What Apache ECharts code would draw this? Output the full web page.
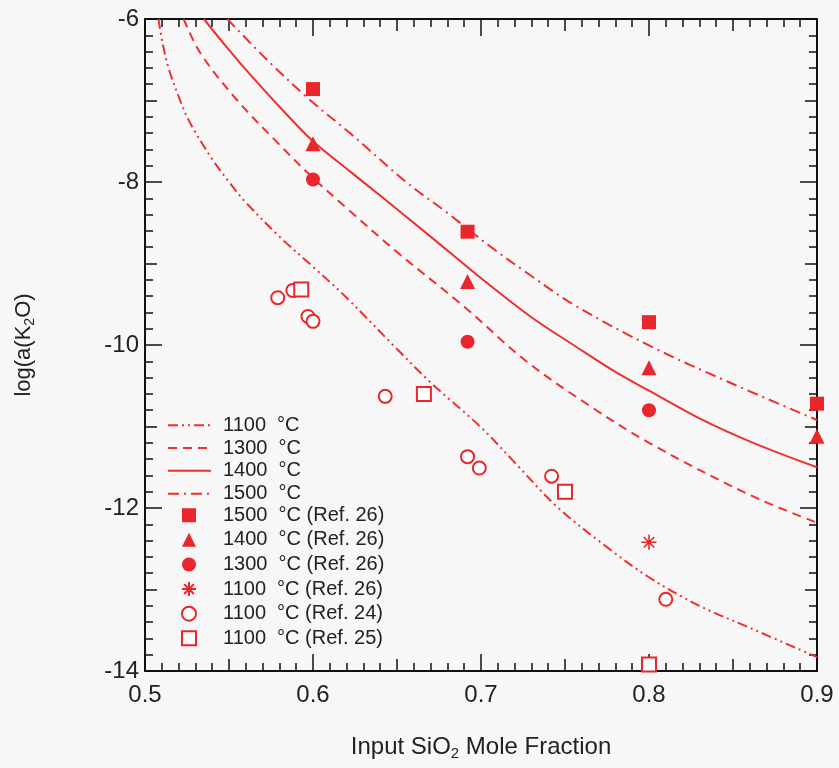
<!DOCTYPE html>
<html>
<head>
<meta charset="utf-8">
<script src="https://cdn.jsdelivr.net/npm/echarts@6/dist/echarts.min.js"></script>
<style>
html,body{margin:0;padding:0;background:#f7f7f7;}
#chart{width:839px;height:768px;}
</style>
</head>
<body>
<div id="chart"></div>
<script>
// ---- Data ----
// Model curves (x = input SiO2 mole fraction, y = log a(K2O))
const c1100X = [0.508, 0.5105, 0.514, 0.520, 0.525, 0.530, 0.540, 0.550, 0.560, 0.580, 0.600, 0.620, 0.650, 0.670, 0.700, 0.720, 0.745, 0.775, 0.800, 0.830, 0.860, 0.900];
const c1100Y = [-6.00, -6.30, -6.60, -6.95, -7.20, -7.39, -7.72, -8.00, -8.25, -8.67, -9.04, -9.42, -10.05, -10.46, -11.01, -11.44, -11.98, -12.48, -12.85, -13.20, -13.47, -13.83];
const c1300X = [0.523, 0.533, 0.555, 0.579, 0.600, 0.620, 0.650, 0.690, 0.727, 0.765, 0.800, 0.860, 0.900];
const c1300Y = [-6.00, -6.42, -7.00, -7.52, -7.95, -8.32, -8.86, -9.53, -10.20, -10.75, -11.20, -11.84, -12.18];
const c1400X = [0.535, 0.550, 0.5625, 0.582, 0.600, 0.622, 0.642, 0.670, 0.700, 0.730, 0.755, 0.780, 0.800, 0.830, 0.862, 0.900];
const c1400Y = [-6.00, -6.38, -6.68, -7.12, -7.50, -7.87, -8.20, -8.67, -9.18, -9.66, -10.00, -10.33, -10.56, -10.90, -11.20, -11.50];
const c1500X = [0.549, 0.5726, 0.598, 0.622, 0.656, 0.680, 0.7054, 0.727, 0.7548, 0.8024, 0.848, 0.900];
const c1500Y = [-6.00, -6.50, -6.99, -7.40, -8.01, -8.38, -8.79, -9.11, -9.50, -10.03, -10.46, -10.92];

// Measured points
const r26_1500X = [0.600, 0.692, 0.800, 0.900];
const r26_1500Y = [-6.86, -8.61, -9.72, -10.72];
const r26_1400X = [0.600, 0.692, 0.800, 0.900];
const r26_1400Y = [-7.53, -9.22, -10.28, -11.12];
const r26_1300X = [0.600, 0.692, 0.800];
const r26_1300Y = [-7.97, -9.96, -10.80];
const r26_1100X = [0.800];
const r26_1100Y = [-12.42];
const r24_1100X = [0.579, 0.588, 0.597, 0.600, 0.643, 0.692, 0.699, 0.742, 0.810];
const r24_1100Y = [-9.42, -9.33, -9.65, -9.71, -10.63, -11.37, -11.51, -11.61, -13.12];
const r25_1100X = [0.593, 0.666, 0.750, 0.800];
const r25_1100Y = [-9.32, -10.60, -11.80, -13.92];

// Legend / series names
const lineNames = ['1100  °C', '1300  °C', '1400  °C', '1500  °C'];
const pointNames = ['1500  °C (Ref. 26)', '1400  °C (Ref. 26)', '1300  °C (Ref. 26)',
                    '1100  °C (Ref. 26)', '1100  °C (Ref. 24)', '1100  °C (Ref. 25)'];

// Axis settings
const xMin = 0.5, xMax = 0.9;
const yMin = -14, yMax = -6;

// ---- Chart ----
const RED = '#e8262b';
const LINE_RED = '#ee3030';
const FONT = '"Liberation Sans", Arial, Helvetica, sans-serif';
const pairs = (xs, ys) => xs.map((x, i) => [x, ys[i]]);

const axisLineStyle = {color: '#111', width: 2};
const tickStyle = {color: '#111', width: 1.5};

function xAx(pos, major, withLabels) {
  const a = {
    type: 'value', min: xMin, max: xMax, position: pos,
    interval: major ? 0.1 : 0.05,
    axisLine: {show: !major, onZero: false, lineStyle: axisLineStyle},
    axisTick: {show: true, inside: true, length: major ? 17 : 12, lineStyle: tickStyle},
    minorTick: {show: !major, splitNumber: 5, length: 8, lineStyle: tickStyle},
    splitLine: {show: false},
    axisLabel: {show: false}
  };
  if (withLabels) {
    a.axisLabel = {
      show: true, fontSize: 24, fontFamily: FONT, color: '#222', margin: 12,
      formatter: v => (Math.abs(v * 10 - Math.round(v * 10)) < 1e-6 ? v.toFixed(1) : '')
    };
    a.name = 'Input SiO{sub|2} Mole Fraction';
    a.nameLocation = 'middle';
    a.nameGap = 63;
    a.nameTextStyle = {
      fontSize: 24, fontFamily: FONT, color: '#222',
      rich: {sub: {fontSize: 15, fontFamily: FONT, color: '#222', padding: [12, 0, 0, 0]}}
    };
  }
  return a;
}
function yAx(pos, major, withLabels) {
  const a = {
    type: 'value', min: yMin, max: yMax, position: pos,
    interval: major ? 2 : 1,
    axisLine: {show: !major, onZero: false, lineStyle: axisLineStyle},
    axisTick: {show: true, inside: true, length: major ? 17 : 12, lineStyle: tickStyle},
    minorTick: {show: !major, splitNumber: 5, length: 8, lineStyle: tickStyle},
    splitLine: {show: false},
    axisLabel: {show: false}
  };
  if (withLabels) {
    a.axisLabel = {
      show: true, fontSize: 24, fontFamily: FONT, color: '#222', margin: 6,
      formatter: v => (Math.round(v) % 2 === 0 ? String(Math.round(v)) : '')
    };
    a.name = 'log(a(K{sub|2}O)';
    a.nameLocation = 'middle';
    a.nameGap = 108;
    a.nameRotate = 90;
    a.nameTextStyle = {
      fontSize: 22, fontFamily: FONT, color: '#222',
      rich: {sub: {fontSize: 14, fontFamily: FONT, color: '#222', padding: [12, 0, 0, 0]}}
    };
  }
  return a;
}

function lineSeries(name, xs, ys, dash) {
  return {
    name, type: 'line', xAxisIndex: 0, yAxisIndex: 0,
    data: pairs(xs, ys), showSymbol: false, symbol: 'none',
    smooth: 0.35, clip: true,
    lineStyle: {color: LINE_RED, width: 2, type: dash},
    itemStyle: {color: LINE_RED}, z: 2
  };
}
function scatterSeries(name, xs, ys, symbol, size, style) {
  return {
    name, type: 'scatter', xAxisIndex: 0, yAxisIndex: 0,
    data: pairs(xs, ys), symbol, symbolSize: size,
    itemStyle: Object.assign({opacity: 1}, style), z: 5
  };
}

const ASTER = 'path://M10,0 L10,20 M0,10 L20,10 M3,3 L17,17 M3,17 L17,3';

const legendText = {fontSize: 20, fontFamily: FONT, color: '#222', lineHeight: 20.5};

const option = {
  backgroundColor: '#f7f7f7',
  animation: false,
  grid: {left: 145, right: 22, top: 19, bottom: 97, containLabel: false},
  xAxis: [xAx('bottom', false, true), xAx('bottom', true, false), xAx('top', false, false), xAx('top', true, false)],
  yAxis: [yAx('left', false, true), yAx('left', true, false), yAx('right', false, false), yAx('right', true, false)],
  legend: [
    {
      orient: 'vertical', left: 167, top: 415, padding: 0,
      itemWidth: 43, itemHeight: 14, itemGap: 2.3,
      textStyle: Object.assign({padding: [0, 0, 0, 7]}, legendText),
      data: lineNames.map(n => ({name: n, itemStyle: {opacity: 0}}))
    },
    {
      orient: 'vertical', left: 181, top: 505, padding: 0,
      itemWidth: 14, itemHeight: 14, itemGap: 4.1,
      textStyle: Object.assign({padding: [0, 0, 0, 22]}, legendText),
      data: pointNames
    }
  ],
  series: [
    lineSeries(lineNames[0], c1100X, c1100Y, [10, 4, 2, 4, 2, 4]),
    lineSeries(lineNames[1], c1300X, c1300Y, [9, 6]),
    lineSeries(lineNames[2], c1400X, c1400Y, 'solid'),
    lineSeries(lineNames[3], c1500X, c1500Y, [11, 5, 2, 5]),
    scatterSeries(pointNames[0], r26_1500X, r26_1500Y, 'rect', 14, {color: RED}),
    scatterSeries(pointNames[1], r26_1400X, r26_1400Y, 'triangle', 15, {color: RED}),
    scatterSeries(pointNames[2], r26_1300X, r26_1300Y, 'circle', 14, {color: RED}),
    scatterSeries(pointNames[3], r26_1100X, r26_1100Y, ASTER, 15, {color: RED, borderColor: RED, borderWidth: 1.6}),
    scatterSeries(pointNames[4], r24_1100X, r24_1100Y, 'emptyCircle', 13, {color: RED, borderWidth: 1.5}),
    scatterSeries(pointNames[5], r25_1100X, r25_1100Y, 'emptyRect', 14, {color: RED, borderWidth: 1.5})
  ]
};

const chart = echarts.init(document.getElementById('chart'), null, {renderer: 'canvas'});
chart.setOption(option);
</script>
</body>
</html>
